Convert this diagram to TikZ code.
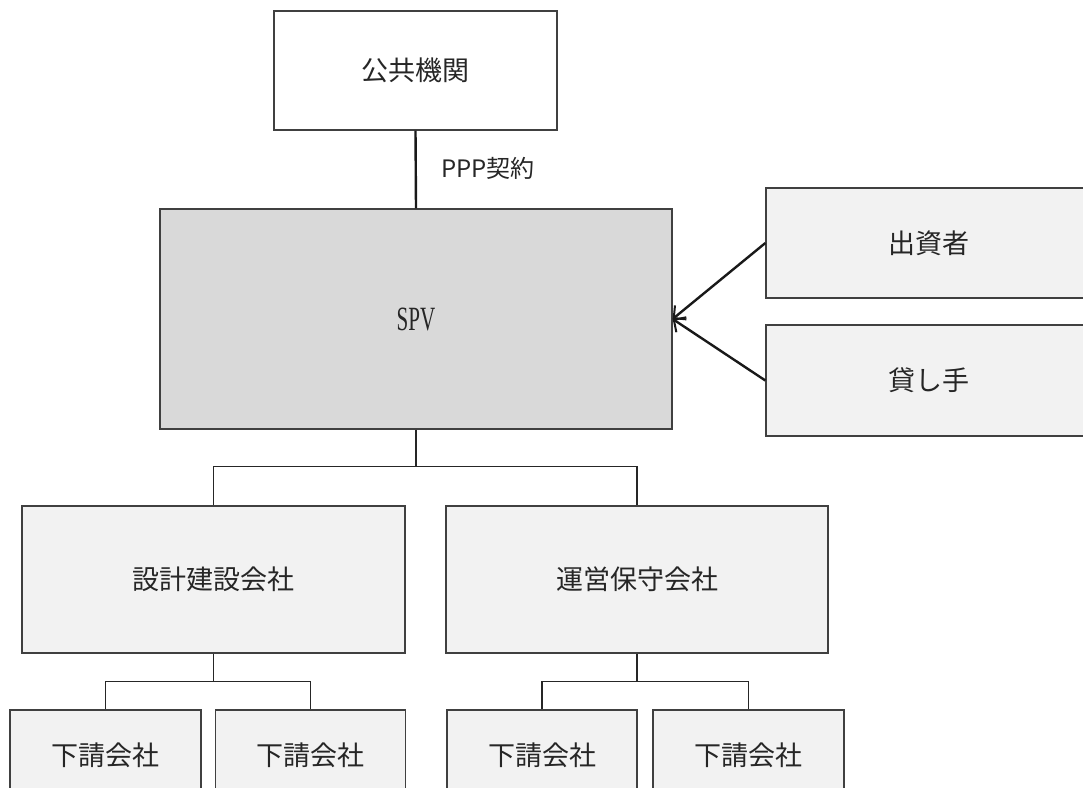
\documentclass[tikz,border=0pt]{standalone}
\usepackage{fontspec}
\newfontfamily\jp{Noto Sans CJK JP}
\newfontfamily\spvfont{Liberation Serif}
\usetikzlibrary{arrows.meta}
\definecolor{boxline}{HTML}{404040}
\definecolor{spvfill}{HTML}{D9D9D9}
\definecolor{lightfill}{HTML}{F2F2F2}
\tikzset{
  box/.style={draw=boxline, line width=1.3pt, fill=lightfill, inner sep=0pt,
    font=\jp\fontsize{27}{31}\selectfont, text=black!85},
  tree/.style={draw=black!85, line width=1.4pt},
  heavy/.style={draw=black!90, line width=2.4pt},
  arr/.style={heavy, -{Straight Barb[length=9pt,width=18pt,line width=2pt]}},
}
\begin{document}
\begin{tikzpicture}[x=1pt,y=-1pt]
\useasboundingbox (0,0) rectangle (1083,787);
\clip (0,0) rectangle (1083,787);
\fill[white] (0,0) rectangle (1083,787);

\node[box, fill=white, minimum width=283pt, minimum height=119pt] (pub) at (415.5,70.5) {公共機関};
\node[box, fill=spvfill, minimum width=512pt, minimum height=220pt] (spv) at (416,319)
  {\scalebox{0.62}[1]{\spvfont\fontsize{34}{34}\selectfont SPV}};
\node[box, minimum width=325pt, minimum height=110pt] (inv) at (928.5,243) {出資者};
\node[box, minimum width=325pt, minimum height=111pt] (lend) at (928.5,380.5) {貸し手};

\node[box, minimum width=383pt, minimum height=147pt] (dc) at (213.5,579.5) {設計建設会社};
\node[box, minimum width=382pt, minimum height=147pt] (om) at (637,579.5) {運営保守会社};

\node[box, minimum width=191pt, minimum height=90pt] (s1) at (105.5,755) {下請会社};
\node[box, minimum width=190pt, minimum height=90pt] (s2) at (310.5,755) {下請会社};
\node[box, minimum width=190pt, minimum height=90pt] (s3) at (542,755) {下請会社};
\node[box, minimum width=191pt, minimum height=90pt] (s4) at (748.5,755) {下請会社};

% PPP contract
\draw[heavy] (pub.south) -- (spv.north);
\node[font=\jp\fontsize{24}{27}\selectfont, text=black!85] (ppp) at (488,168) {PPP契約};

% investors / lenders
\draw[arr] (inv.west) -- (spv.east);
\draw[arr] (lend.west) -- (spv.east);

% tree
\coordinate (j1) at (416,467);
\draw[tree] (spv.south) -- (j1);
\draw[tree] (dc.north) -- ++(0,-39) -| (om.north);
\draw[tree] (dc.south) -- ++(0,28);
\draw[tree] (s1.north) -- ++(0,-28) -| (s2.north);
\draw[tree] (om.south) -- ++(0,28);
\draw[tree] (s3.north) -- ++(0,-28) -| (s4.north);
\end{tikzpicture}
\end{document}
